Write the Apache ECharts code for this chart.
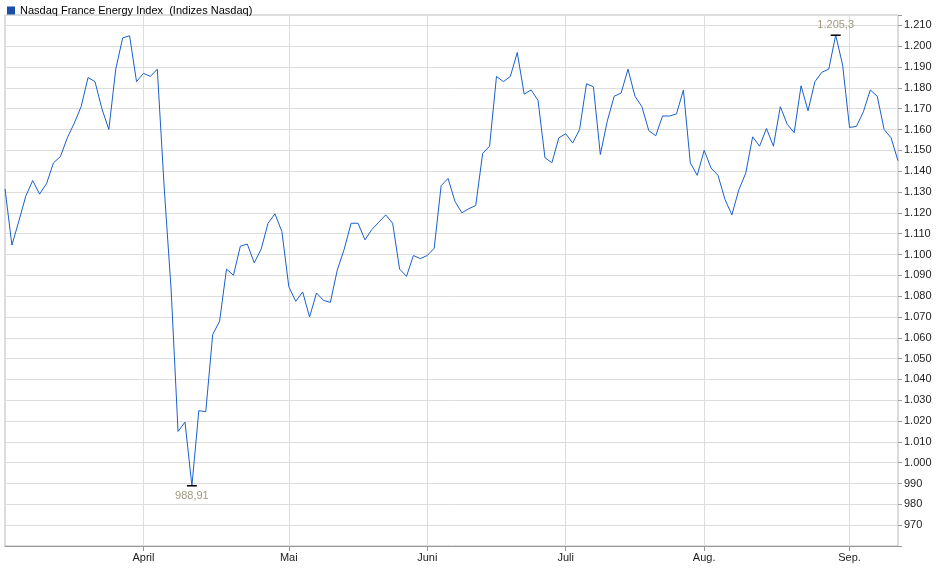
<!DOCTYPE html>
<html><head><meta charset="utf-8">
<script src="https://cdn.jsdelivr.net/npm/echarts@6/dist/echarts.min.js"></script>
<style>html,body{margin:0;padding:0;background:#fff}#c{width:940px;height:579px}</style>
</head><body><div id="c"></div>
<script>
const values = [1131.5,1104.5,1116,1128,1135.5,1129,1134,1144,1147,1156,1163,1171,1185,1183,1170,1160,1189,1204,1205,1183,1187,1185.5,1189,1132,1083,1015,1019.5,988.91,1025,1024.5,1061.5,1068,1093,1090,1104,1105,1096,1102.5,1115,1119.5,1111,1084.5,1077.5,1082,1070,1081.5,1078,1077,1092.5,1102.5,1115,1115,1107,1112,1115.5,1119,1115,1093,1089.5,1099.5,1098,1099.5,1103,1133,1136.5,
1125.5,1120,1122,1123.5,1148.5,1152,1185.5,1183,1185.5,1197,1177,1179,1174,1146.5,1144,1156,1158,1153.5,1160,1182,1180.5,1148,1164,1176,1177.5,1189,1176,1171,1159.5,1157,1166.5,1166.5,1167.5,1179,1144,1138,1150,1141.5,1138,1126.5,1119,1131,1139,1156.5,1152,1160.5,1152,1171,1162.5,1158.5,1181,1169,1183,1187.5,1189,1205.3,1191,1161,1161.5,1168.5,1179,1176,1160,1156,1145];
const monthIndex = [20,41,61,81,101,122];
const monthLabels = ['April','Mai','Juni','Juli','Aug.','Sep.'];
const categories = values.map((v,i)=>String(i));
const fmt = v => v>=1000 ? Math.floor(v/1000)+'.'+String(Math.round(v%1000)).padStart(3,'0') : String(v);
const isMonth = i => monthIndex.indexOf(i) >= 0;
const chart = echarts.init(document.getElementById('c'));
chart.setOption({
  animation:false,
  grid:{left:5,right:42,top:15,bottom:33,show:true,borderColor:'#bbb',borderWidth:1},
  legend:{show:true,left:2,top:0,itemWidth:8,itemHeight:8,icon:'rect',textStyle:{fontSize:11,color:'#000',fontFamily:'Liberation Sans, Arial'},data:['Nasdaq France Energy Index  (Indizes Nasdaq)']},
  xAxis:{type:'category',data:categories,boundaryGap:false,
    axisLine:{lineStyle:{color:'#999'}},
    axisTick:{show:true,interval:(i)=>isMonth(i),lineStyle:{color:'#999'}},
    axisLabel:{interval:(i)=>isMonth(i),formatter:(v,i)=>monthLabels[monthIndex.indexOf(Number(v))]||'',fontSize:11,color:'#222',fontFamily:'Liberation Sans, Arial',margin:6},
    splitLine:{show:true,interval:(i)=>isMonth(i),lineStyle:{color:'#ddd'}}},
  yAxis:{type:'value',position:'right',min:960,max:1215,interval:10,
    axisLine:{show:false},axisTick:{show:true,length:4,lineStyle:{color:'#999'}},
    axisLabel:{formatter:v=>(v<970||v>1210)?'':fmt(v),fontSize:11,color:'#222',fontFamily:'Liberation Sans, Arial',margin:6},
    splitLine:{lineStyle:{color:'#ddd'}}},
  series:[{name:'Nasdaq France Energy Index  (Indizes Nasdaq)',type:'line',data:values,showSymbol:false,symbol:'none',
    itemStyle:{color:'#1a4fa8'},lineStyle:{color:'#1a5fcc',width:1},
    markPoint:{symbol:'rect',symbolSize:[10,1.5],itemStyle:{color:'#000'},
      data:[
        {type:'max',label:{show:true,position:'top',distance:4,formatter:'1.205,3',color:'#a09880',fontSize:11,fontFamily:'Liberation Sans, Arial'}},
        {type:'min',label:{show:true,position:'bottom',distance:4,formatter:'988,91',color:'#a09880',fontSize:11,fontFamily:'Liberation Sans, Arial'}}
      ]}}]
});
</script></body></html>
